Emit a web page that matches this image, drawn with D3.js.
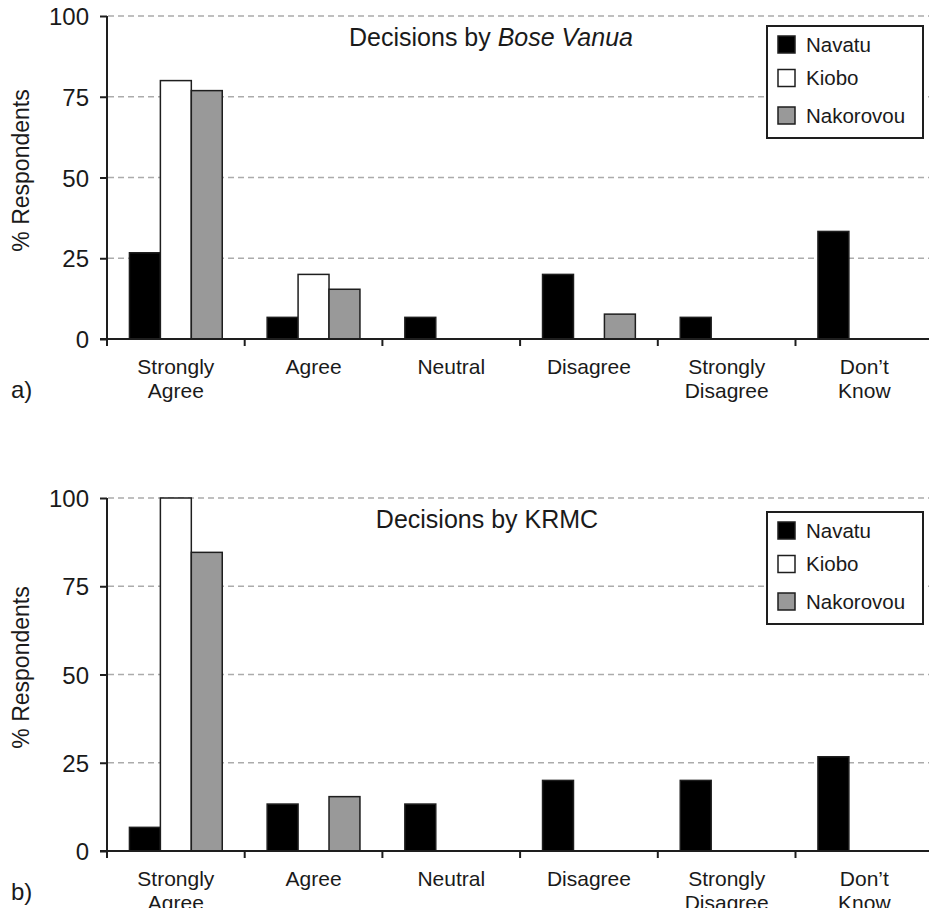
<!DOCTYPE html>
<html>
<head>
<meta charset="utf-8">
<script src="https://cdn.jsdelivr.net/npm/d3@7"></script>
<style>
  html, body { margin: 0; padding: 0; background: #fff; }
  svg { display: block; font-family: Arial, "Liberation Sans", Helvetica, sans-serif; }
</style>
</head>
<body>
<svg id="chart" width="929" height="908"></svg>
<script>
// ---- data ----
const categories = [["Strongly", "Agree"], ["Agree"], ["Neutral"], ["Disagree"], ["Strongly", "Disagree"], ["Don\u2019t", "Know"]];
const series = ["Navatu", "Kiobo", "Nakorovou"];
const seriesColors = ["#000000", "#ffffff", "#999999"];
const yTicks = [0, 25, 50, 75, 100];

// Panel a) Decisions by Bose Vanua
const boseNavatu    = [26.7, 6.7, 6.7, 20.0, 6.7, 33.3];
const boseKiobo     = [80.0, 20.0, 0, 0, 0, 0];
const boseNakorovou = [76.9, 15.4, 0, 7.7, 0, 0];

// Panel b) Decisions by KRMC
const krmcNavatu    = [6.7, 13.3, 13.3, 20.0, 20.0, 26.7];
const krmcKiobo     = [100.0, 0, 0, 0, 0, 0];
const krmcNakorovou = [84.6, 15.4, 0, 0, 0, 0];

const svg = d3.select("#chart");
const TXT = "#1a1a1a";

function drawPanel(opt) {
  const g = svg.append("g");
  const catKeys = categories.map((c, i) => i);
  const x0 = d3.scaleBand().domain(catKeys).range([107, 107 + 6 * 137.7])
    .paddingInner(0.326).paddingOuter(0.163);
  const x1 = d3.scaleBand().domain(series).range([0, x0.bandwidth()]);
  const y = d3.scaleLinear().domain([0, 100]).range([opt.yBottom, opt.yTop]);

  // gridlines
  g.selectAll("line.grid").data(yTicks.filter(t => t > 0)).join("line")
    .attr("class", "grid")
    .attr("x1", 108).attr("x2", 929)
    .attr("y1", d => y(d)).attr("y2", d => y(d))
    .attr("stroke", "#ababab").attr("stroke-width", 1.3)
    .attr("stroke-dasharray", "6,4");

  // bars
  const rows = catKeys.map(i => series.map((s, k) => ({ cat: i, s, k, v: opt.values[k][i] })));
  const grp = g.selectAll("g.cat").data(rows).join("g")
    .attr("transform", d => `translate(${x0(d[0].cat)},0)`);
  grp.selectAll("rect").data(d => d.filter(e => e.v > 0)).join("rect")
    .attr("x", d => x1(d.s))
    .attr("width", x1.bandwidth())
    .attr("y", d => y(d.v))
    .attr("height", d => y(0) - y(d.v))
    .attr("fill", d => seriesColors[d.k])
    .attr("stroke", "#1e1e1e").attr("stroke-width", 1.5);

  // y axis
  const yAxis = d3.axisLeft(y).tickValues(yTicks).tickSize(7).tickPadding(11);
  const ya = g.append("g").attr("transform", "translate(107,0)").call(yAxis);
  ya.select(".domain").attr("stroke", "#1e1e1e").attr("stroke-width", 2)
    .attr("d", `M0,${y(0)}V${y(100)}`);
  ya.selectAll(".tick line").attr("stroke", "#1e1e1e").attr("stroke-width", 2);
  ya.selectAll(".tick text").attr("fill", TXT).style("font-size", "24px")
    .attr("dy", "0.36em");

  // x axis
  const boundaries = d3.range(6).map(i => x0.step() * i + 107);
  g.append("line").attr("x1", 100).attr("x2", 929)
    .attr("y1", y(0)).attr("y2", y(0))
    .attr("stroke", "#1e1e1e").attr("stroke-width", 2);
  g.selectAll("line.xt").data(boundaries).join("line")
    .attr("class", "xt")
    .attr("x1", d => d).attr("x2", d => d)
    .attr("y1", y(0)).attr("y2", y(0) + 7)
    .attr("stroke", "#1e1e1e").attr("stroke-width", 2);

  // category labels
  const lab = g.selectAll("text.cat").data(categories).join("text")
    .attr("class", "cat")
    .attr("text-anchor", "middle")
    .attr("fill", TXT)
    .style("font-size", "21px")
    .attr("transform", (d, i) => `translate(${x0(i) + x0.bandwidth() / 2},${y(0) + 35})`);
  lab.selectAll("tspan").data(d => d).join("tspan")
    .attr("x", 0).attr("y", (d, i) => i * 24).text(d => d);

  // y axis label
  g.append("text")
    .attr("transform", `translate(29,${(y(0) + y(100)) / 2 - 7}) rotate(-90)`)
    .attr("text-anchor", "middle").attr("fill", TXT)
    .style("font-size", "23px").text("% Respondents");

  // panel letter
  g.append("text").attr("x", 11).attr("y", opt.letterY)
    .attr("fill", TXT).style("font-size", "24px").text(opt.letter);

  // title
  const t = g.append("text").attr("x", opt.titleX).attr("y", opt.titleY)
    .attr("text-anchor", "middle").attr("fill", TXT).style("font-size", "25px");
  opt.title.forEach(p => t.append("tspan").style("font-style", p.italic ? "italic" : "normal").text(p.text));

  // legend
  const lg = g.append("g").attr("transform", `translate(767,${opt.legendY})`);
  lg.append("rect").attr("width", 156).attr("height", 112)
    .attr("fill", "#fff").attr("stroke", "#1e1e1e").attr("stroke-width", 2);
  const itemY = [10, 43.5, 81];
  const items = lg.selectAll("g.item").data(series).join("g")
    .attr("transform", (d, i) => `translate(11,${itemY[i]})`);
  items.append("rect").attr("width", 17).attr("height", 17)
    .attr("fill", (d, i) => seriesColors[i])
    .attr("stroke", "#1e1e1e").attr("stroke-width", 1.5);
  items.append("text").attr("x", 28).attr("y", 8.5).attr("dy", "0.36em")
    .attr("fill", TXT).style("font-size", "20.5px").text(d => d);
}

drawPanel({
  yTop: 16, yBottom: 339,
  values: [boseNavatu, boseKiobo, boseNakorovou],
  title: [{ text: "Decisions by " }, { text: "Bose Vanua", italic: true }],
  titleX: 491, titleY: 46,
  legendY: 26, letter: "a)", letterY: 398
});
drawPanel({
  yTop: 498, yBottom: 851,
  values: [krmcNavatu, krmcKiobo, krmcNakorovou],
  title: [{ text: "Decisions by KRMC" }],
  titleX: 487, titleY: 528,
  legendY: 512, letter: "b)", letterY: 900
});
</script>
</body>
</html>
